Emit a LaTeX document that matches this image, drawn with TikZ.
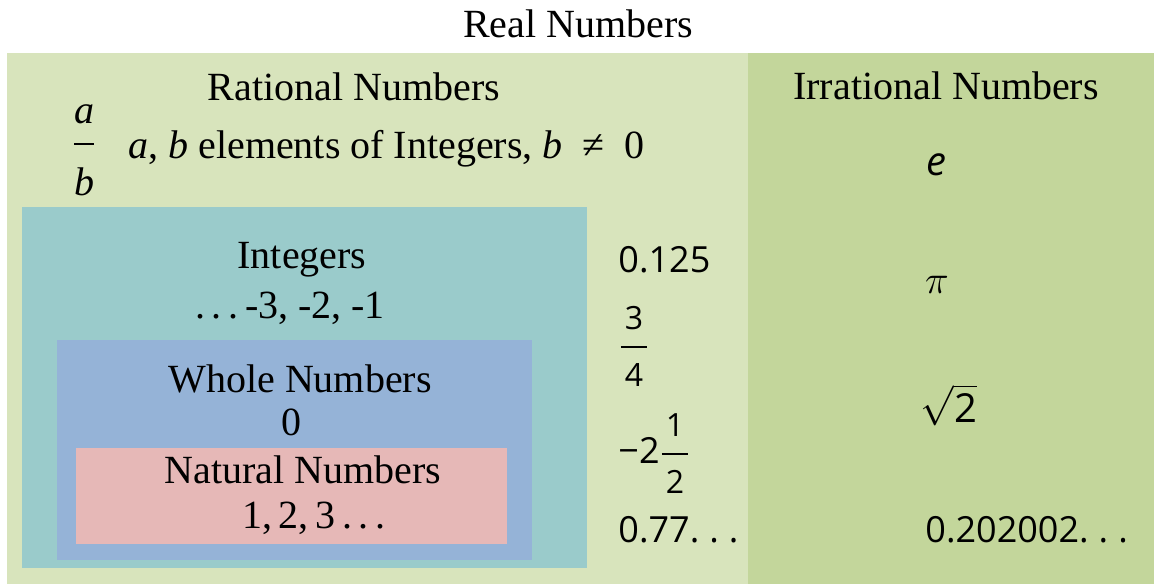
\RequirePackage{fix-cm}
\documentclass[tikz,border=0pt]{standalone}
\usepackage{amsmath}
\usepackage{fontspec}
\setmainfont{Liberation Serif}
\newfontfamily\numfont{Open Sans}
\usetikzlibrary{positioning}

\definecolor{realgreen}{HTML}{D8E4BC}
\definecolor{irratgreen}{HTML}{C3D69B}
\definecolor{intteal}{HTML}{9ACBCB}
\definecolor{wholeblue}{HTML}{95B3D7}
\definecolor{natpink}{HTML}{E6B8B7}

\newcommand{\numfrac}[2]{\genfrac{}{}{0.8pt}{0}{\text{\fontsize{16}{18}\selectfont\kern2pt#1\kern2pt}\rule[-6pt]{0pt}{0pt}}{\rule{0pt}{17pt}\text{\fontsize{16}{18}\selectfont#2}}}
\newcommand{\gapdots}{.\kern5pt.\kern5pt.}

\begin{document}
\begin{tikzpicture}[x=0.5pt, y=-0.5pt,
  setname/.style={font=\fontsize{20}{24}\selectfont, inner sep=0pt, anchor=base},
  number/.style={font=\fontsize{18}{22}\selectfont\numfont, inner sep=0pt, anchor=base west},
  irrnum/.style={font=\fontsize{20}{24}\selectfont\numfont, inner sep=0pt, anchor=base}]
  \useasboundingbox (0,0) rectangle (1154,584);
  % the nested sets
  \fill[realgreen] (7,53) rectangle (748,584);
  \fill[irratgreen] (748,53) rectangle (1154,584);
  \fill[intteal] (22,207) rectangle (587,568);
  \fill[wholeblue] (57,340) rectangle (532,560);
  \fill[natpink] (76,448) rectangle (507,544);

  \node[setname] (real) at (578,37) {Real Numbers};
  \node[setname] (rational) at (354,100) {Rational Numbers};
  \node[setname] (irrational) at (946,99) {Irrational Numbers};
  \node[setname] (ratfrac) at (84,154) {$\genfrac{}{}{0.8pt}{0}{\textit{a}\rule[-7.7pt]{0pt}{0pt}}{\rule{0pt}{22.7pt}\textit{b}}$};
  \node[setname, anchor=base west] (ratdef) at (128,158) {\textit{a}, \textit{b} elements of Integers, \textit{b}\enspace≠\enspace0};

  \node[setname] (integers) at (302,268) {Integers};
  \node[setname] (negints) at (290,318) {.\,.\,.\,-3, -2, -1};
  \node[setname] (whole) at (300,392) {Whole Numbers};
  \node[setname] (zero) at (291,435) {0};
  \node[setname] (natural) at (303,483) {Natural Numbers};
  \node[setname] (naturals) at (314,528) {1,\,2,\,3\,.\,.\,.};

  % rational examples
  \node[number] (decimal) at (618,272) {0.125};
  \node[number] (quarters) at (618,356) {$\numfrac{3}{4}$};
  \node[number] (mixed) at (618,463) {−2$\numfrac{1}{2}$};
  \node[number] (repeating) at (618,542) {0.77\gapdots};

  % irrational examples
  \node[irrnum] (euler) at (936,175) {\itshape e};
  \node[irrnum] (pi) at (937,293) {$\pi$};
  \node[irrnum] (root) at (949,422) {$\sqrt{\text{2}}$};
  \node[number] (nonrep) at (925,542) {0.202002\gapdots};
\end{tikzpicture}
\end{document}
